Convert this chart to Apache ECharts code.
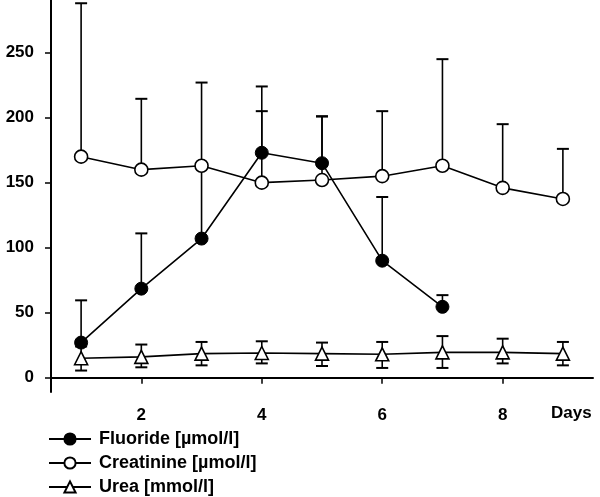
<!DOCTYPE html>
<html>
<head>
<meta charset="utf-8">
<script src="https://cdn.jsdelivr.net/npm/echarts@6/dist/echarts.min.js"></script>
<style>
html,body{margin:0;padding:0;background:#fff;}
#chart{width:600px;height:497px;}
</style>
</head>
<body>
<div id="chart"></div>
<script>
var days = [1, 2, 3, 4, 5, 6, 7, 8, 9];
var fluoride = [27, 68.5, 107, 173, 165, 90, 54.5];
var fluorideUpper = [59.5, 111, 162, 205, 201, 139, 63.5];
var creatinine = [170, 160, 163, 150, 152, 155, 163, 146, 137.5];
var creatinineUpper = [288, 214.5, 227, 224, 201, 205, 245, 195, 176];
var urea = [15, 16, 18.5, 19, 18.5, 18, 19.5, 19.5, 18.5];
var ureaUpper = [24, 25.5, 27.5, 28, 27, 27.5, 32, 30, 27.5];
var ureaLower = [5.5, 8, 9.5, 11, 9, 7.5, 7.5, 11, 9.5];
var xTicks = [2, 4, 6, 8];
var yTicks = [0, 50, 100, 150, 200, 250];
var seriesNames = ['Fluoride [µmol/l]', 'Creatinine [µmol/l]', 'Urea [mmol/l]'];

var FONT = '"Liberation Sans", Arial, sans-serif';

function pairs(vals) {
  return vals.map(function (v, i) { return [days[i], v]; });
}
function errData(vals, upper, lower) {
  return vals.map(function (v, i) {
    return [days[i], v, upper[i], lower ? lower[i] : v];
  });
}
function renderErr(params, api) {
  var x = api.value(0);
  var up = api.coord([x, api.value(2)]);
  var lo = api.coord([x, api.value(3)]);
  var hw = 6;
  var children = [
    {type: 'line', shape: {x1: up[0], y1: up[1], x2: lo[0], y2: lo[1]}, style: {stroke: '#000', lineWidth: 1.6}},
    {type: 'line', shape: {x1: up[0] - hw, y1: up[1], x2: up[0] + hw, y2: up[1]}, style: {stroke: '#000', lineWidth: 2}}
  ];
  if (api.value(3) < api.value(1)) {
    children.push({type: 'line', shape: {x1: lo[0] - hw, y1: lo[1], x2: lo[0] + hw, y2: lo[1]}, style: {stroke: '#000', lineWidth: 2}});
  }
  return {type: 'group', children: children};
}

var chart = echarts.init(document.getElementById('chart'));
chart.setOption({
  animation: false,
  backgroundColor: '#fff',
  grid: {left: 51, right: 7, top: 0, bottom: 105, containLabel: false},
  xAxis: {
    type: 'value', min: 0.5, max: 9.5,
    splitLine: {show: false},
    axisLine: {lineStyle: {color: '#000', width: 2}},
    axisTick: {show: true, length: 6, lineStyle: {color: '#000', width: 1.5}, customValues: xTicks},
    axisLabel: {customValues: xTicks, margin: 15, color: '#000', fontFamily: FONT, fontWeight: 'bold', fontSize: 17}
  },
  yAxis: {
    type: 'value', min: -11, max: 290.5,
    splitLine: {show: false},
    axisLine: {show: true, lineStyle: {color: '#000', width: 2}},
    axisTick: {show: true, length: 6, lineStyle: {color: '#000', width: 1.5}, customValues: yTicks},
    axisLabel: {customValues: yTicks, margin: 17, color: '#000', fontFamily: FONT, fontWeight: 'bold', fontSize: 17}
  },
  legend: {
    orient: 'vertical', left: 48, top: 430, padding: 0, height: 80,
    itemWidth: 42, itemHeight: 14, itemGap: 6,
    data: seriesNames,
    textStyle: {color: '#000', fontFamily: FONT, fontWeight: 'bold', fontSize: 18, lineHeight: 18, padding: [0, 0, 0, 3]}
  },
  graphic: [{
    type: 'text', left: 551, top: 405,
    style: {text: 'Days', fill: '#000', font: 'bold 17px "Liberation Sans", Arial, sans-serif'}
  }],
  series: [
    {type: 'custom', name: 'errC', data: errData(creatinine, creatinineUpper), renderItem: renderErr, z: 1, silent: true},
    {type: 'custom', name: 'errF', data: errData(fluoride, fluorideUpper), renderItem: renderErr, z: 1, silent: true},
    {type: 'custom', name: 'errU', data: errData(urea, ureaUpper, ureaLower), renderItem: renderErr, z: 1, silent: true},
    {
      type: 'line', name: seriesNames[1], data: pairs(creatinine), z: 3,
      symbol: 'circle', symbolSize: 13,
      lineStyle: {color: '#000', width: 1.6},
      itemStyle: {color: '#fff', borderColor: '#000', borderWidth: 1.6}
    },
    {
      type: 'line', name: seriesNames[0], data: pairs(fluoride), z: 4,
      symbol: 'circle', symbolSize: 13,
      lineStyle: {color: '#000', width: 1.6},
      itemStyle: {color: '#000', borderColor: '#000', borderWidth: 1}
    },
    {
      type: 'line', name: seriesNames[2], data: pairs(urea), z: 3,
      symbol: 'triangle', symbolSize: 13,
      lineStyle: {color: '#000', width: 1.6},
      itemStyle: {color: '#fff', borderColor: '#000', borderWidth: 1.6}
    }
  ]
});
</script>
</body>
</html>
